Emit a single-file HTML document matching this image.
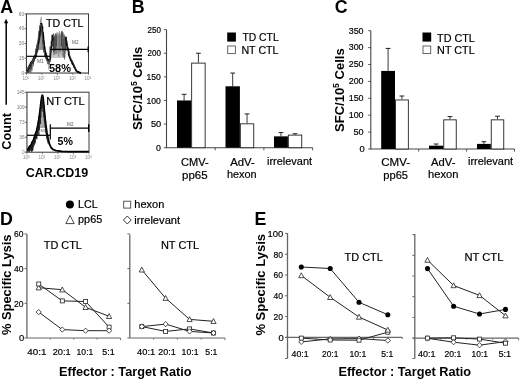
<!DOCTYPE html>
<html><head><meta charset="utf-8"><title>Figure</title><style>
html,body{margin:0;padding:0;background:#fff;width:520px;height:380px;overflow:hidden;}
#fig{will-change:transform;width:520px;height:380px;}
svg{display:block;}
text{font-family:"Liberation Sans", sans-serif;}
</style></head><body><div id="fig">
<svg width="520" height="380" viewBox="0 0 520 380">
<line x1="6.20" y1="22.00" x2="6.20" y2="104.80" stroke="#000" stroke-width="1.5"/>
<path d="M6.1 18.8 L4.0 23.3 L8.2 23.3 Z" fill="#000"/>
<rect x="26.5" y="13.9" width="62.0" height="59.1" fill="none" stroke="#3a3a3a" stroke-width="1.0"/>
<line x1="25.50" y1="15.10" x2="26.50" y2="15.10" stroke="#555" stroke-width="0.6"/>
<line x1="25.50" y1="17.50" x2="26.50" y2="17.50" stroke="#555" stroke-width="0.6"/>
<line x1="25.50" y1="19.90" x2="26.50" y2="19.90" stroke="#555" stroke-width="0.6"/>
<line x1="25.50" y1="22.30" x2="26.50" y2="22.30" stroke="#555" stroke-width="0.6"/>
<line x1="25.50" y1="24.70" x2="26.50" y2="24.70" stroke="#555" stroke-width="0.6"/>
<line x1="25.50" y1="27.10" x2="26.50" y2="27.10" stroke="#555" stroke-width="0.6"/>
<line x1="25.50" y1="29.50" x2="26.50" y2="29.50" stroke="#555" stroke-width="0.6"/>
<line x1="25.50" y1="31.90" x2="26.50" y2="31.90" stroke="#555" stroke-width="0.6"/>
<line x1="25.50" y1="34.30" x2="26.50" y2="34.30" stroke="#555" stroke-width="0.6"/>
<line x1="25.50" y1="36.70" x2="26.50" y2="36.70" stroke="#555" stroke-width="0.6"/>
<line x1="25.50" y1="39.10" x2="26.50" y2="39.10" stroke="#555" stroke-width="0.6"/>
<line x1="25.50" y1="41.50" x2="26.50" y2="41.50" stroke="#555" stroke-width="0.6"/>
<line x1="25.50" y1="43.90" x2="26.50" y2="43.90" stroke="#555" stroke-width="0.6"/>
<line x1="25.50" y1="46.30" x2="26.50" y2="46.30" stroke="#555" stroke-width="0.6"/>
<line x1="25.50" y1="48.70" x2="26.50" y2="48.70" stroke="#555" stroke-width="0.6"/>
<line x1="25.50" y1="51.10" x2="26.50" y2="51.10" stroke="#555" stroke-width="0.6"/>
<line x1="25.50" y1="53.50" x2="26.50" y2="53.50" stroke="#555" stroke-width="0.6"/>
<line x1="25.50" y1="55.90" x2="26.50" y2="55.90" stroke="#555" stroke-width="0.6"/>
<line x1="25.50" y1="58.30" x2="26.50" y2="58.30" stroke="#555" stroke-width="0.6"/>
<line x1="25.50" y1="60.70" x2="26.50" y2="60.70" stroke="#555" stroke-width="0.6"/>
<line x1="25.50" y1="63.10" x2="26.50" y2="63.10" stroke="#555" stroke-width="0.6"/>
<line x1="25.50" y1="65.50" x2="26.50" y2="65.50" stroke="#555" stroke-width="0.6"/>
<line x1="25.50" y1="67.90" x2="26.50" y2="67.90" stroke="#555" stroke-width="0.6"/>
<line x1="25.50" y1="70.30" x2="26.50" y2="70.30" stroke="#555" stroke-width="0.6"/>
<line x1="25.50" y1="72.70" x2="26.50" y2="72.70" stroke="#555" stroke-width="0.6"/>
<line x1="31.17" y1="73.00" x2="31.17" y2="73.90" stroke="#666" stroke-width="0.5"/>
<line x1="33.90" y1="73.00" x2="33.90" y2="73.90" stroke="#666" stroke-width="0.5"/>
<line x1="35.83" y1="73.00" x2="35.83" y2="73.90" stroke="#666" stroke-width="0.5"/>
<line x1="37.33" y1="73.00" x2="37.33" y2="73.90" stroke="#666" stroke-width="0.5"/>
<line x1="38.56" y1="73.00" x2="38.56" y2="73.90" stroke="#666" stroke-width="0.5"/>
<line x1="39.60" y1="73.00" x2="39.60" y2="73.90" stroke="#666" stroke-width="0.5"/>
<line x1="40.50" y1="73.00" x2="40.50" y2="73.90" stroke="#666" stroke-width="0.5"/>
<line x1="41.29" y1="73.00" x2="41.29" y2="73.90" stroke="#666" stroke-width="0.5"/>
<line x1="46.67" y1="73.00" x2="46.67" y2="73.90" stroke="#666" stroke-width="0.5"/>
<line x1="49.40" y1="73.00" x2="49.40" y2="73.90" stroke="#666" stroke-width="0.5"/>
<line x1="51.33" y1="73.00" x2="51.33" y2="73.90" stroke="#666" stroke-width="0.5"/>
<line x1="52.83" y1="73.00" x2="52.83" y2="73.90" stroke="#666" stroke-width="0.5"/>
<line x1="54.06" y1="73.00" x2="54.06" y2="73.90" stroke="#666" stroke-width="0.5"/>
<line x1="55.10" y1="73.00" x2="55.10" y2="73.90" stroke="#666" stroke-width="0.5"/>
<line x1="56.00" y1="73.00" x2="56.00" y2="73.90" stroke="#666" stroke-width="0.5"/>
<line x1="56.79" y1="73.00" x2="56.79" y2="73.90" stroke="#666" stroke-width="0.5"/>
<line x1="62.17" y1="73.00" x2="62.17" y2="73.90" stroke="#666" stroke-width="0.5"/>
<line x1="64.90" y1="73.00" x2="64.90" y2="73.90" stroke="#666" stroke-width="0.5"/>
<line x1="66.83" y1="73.00" x2="66.83" y2="73.90" stroke="#666" stroke-width="0.5"/>
<line x1="68.33" y1="73.00" x2="68.33" y2="73.90" stroke="#666" stroke-width="0.5"/>
<line x1="69.56" y1="73.00" x2="69.56" y2="73.90" stroke="#666" stroke-width="0.5"/>
<line x1="70.60" y1="73.00" x2="70.60" y2="73.90" stroke="#666" stroke-width="0.5"/>
<line x1="71.50" y1="73.00" x2="71.50" y2="73.90" stroke="#666" stroke-width="0.5"/>
<line x1="72.29" y1="73.00" x2="72.29" y2="73.90" stroke="#666" stroke-width="0.5"/>
<line x1="77.67" y1="73.00" x2="77.67" y2="73.90" stroke="#666" stroke-width="0.5"/>
<line x1="80.40" y1="73.00" x2="80.40" y2="73.90" stroke="#666" stroke-width="0.5"/>
<line x1="82.33" y1="73.00" x2="82.33" y2="73.90" stroke="#666" stroke-width="0.5"/>
<line x1="83.83" y1="73.00" x2="83.83" y2="73.90" stroke="#666" stroke-width="0.5"/>
<line x1="85.06" y1="73.00" x2="85.06" y2="73.90" stroke="#666" stroke-width="0.5"/>
<line x1="86.10" y1="73.00" x2="86.10" y2="73.90" stroke="#666" stroke-width="0.5"/>
<line x1="87.00" y1="73.00" x2="87.00" y2="73.90" stroke="#666" stroke-width="0.5"/>
<line x1="87.79" y1="73.00" x2="87.79" y2="73.90" stroke="#666" stroke-width="0.5"/>
<line x1="24.50" y1="73.00" x2="26.50" y2="73.00" stroke="#444" stroke-width="0.8"/>
<text x="24.20" y="74.70" font-size="4.8" text-anchor="end" fill="#777">0</text>
<line x1="24.50" y1="58.23" x2="26.50" y2="58.23" stroke="#444" stroke-width="0.8"/>
<text x="24.20" y="59.93" font-size="4.8" text-anchor="end" fill="#777">15</text>
<line x1="24.50" y1="43.45" x2="26.50" y2="43.45" stroke="#444" stroke-width="0.8"/>
<text x="24.20" y="45.15" font-size="4.8" text-anchor="end" fill="#777">30</text>
<line x1="24.50" y1="28.67" x2="26.50" y2="28.67" stroke="#444" stroke-width="0.8"/>
<text x="24.20" y="30.37" font-size="4.8" text-anchor="end" fill="#777">45</text>
<line x1="24.50" y1="13.90" x2="26.50" y2="13.90" stroke="#444" stroke-width="0.8"/>
<text x="24.20" y="15.60" font-size="4.8" text-anchor="end" fill="#777">60</text>
<line x1="26.50" y1="73.00" x2="26.50" y2="75.00" stroke="#555" stroke-width="0.7"/>
<text x="25.90" y="80.20" font-size="4.6" text-anchor="middle" fill="#888">10<tspan font-size="3.2" dy="-1.6">0</tspan></text>
<line x1="42.00" y1="73.00" x2="42.00" y2="75.00" stroke="#555" stroke-width="0.7"/>
<text x="41.40" y="80.20" font-size="4.6" text-anchor="middle" fill="#888">10<tspan font-size="3.2" dy="-1.6">1</tspan></text>
<line x1="57.50" y1="73.00" x2="57.50" y2="75.00" stroke="#555" stroke-width="0.7"/>
<text x="56.90" y="80.20" font-size="4.6" text-anchor="middle" fill="#888">10<tspan font-size="3.2" dy="-1.6">2</tspan></text>
<line x1="73.00" y1="73.00" x2="73.00" y2="75.00" stroke="#555" stroke-width="0.7"/>
<text x="72.40" y="80.20" font-size="4.6" text-anchor="middle" fill="#888">10<tspan font-size="3.2" dy="-1.6">3</tspan></text>
<line x1="88.50" y1="73.00" x2="88.50" y2="75.00" stroke="#555" stroke-width="0.7"/>
<text x="87.90" y="80.20" font-size="4.6" text-anchor="middle" fill="#888">10<tspan font-size="3.2" dy="-1.6">4</tspan></text>
<rect x="27" y="92.2" width="62" height="59.999999999999986" fill="none" stroke="#3a3a3a" stroke-width="1.0"/>
<line x1="26.00" y1="93.40" x2="27.00" y2="93.40" stroke="#555" stroke-width="0.6"/>
<line x1="26.00" y1="95.80" x2="27.00" y2="95.80" stroke="#555" stroke-width="0.6"/>
<line x1="26.00" y1="98.20" x2="27.00" y2="98.20" stroke="#555" stroke-width="0.6"/>
<line x1="26.00" y1="100.60" x2="27.00" y2="100.60" stroke="#555" stroke-width="0.6"/>
<line x1="26.00" y1="103.00" x2="27.00" y2="103.00" stroke="#555" stroke-width="0.6"/>
<line x1="26.00" y1="105.40" x2="27.00" y2="105.40" stroke="#555" stroke-width="0.6"/>
<line x1="26.00" y1="107.80" x2="27.00" y2="107.80" stroke="#555" stroke-width="0.6"/>
<line x1="26.00" y1="110.20" x2="27.00" y2="110.20" stroke="#555" stroke-width="0.6"/>
<line x1="26.00" y1="112.60" x2="27.00" y2="112.60" stroke="#555" stroke-width="0.6"/>
<line x1="26.00" y1="115.00" x2="27.00" y2="115.00" stroke="#555" stroke-width="0.6"/>
<line x1="26.00" y1="117.40" x2="27.00" y2="117.40" stroke="#555" stroke-width="0.6"/>
<line x1="26.00" y1="119.80" x2="27.00" y2="119.80" stroke="#555" stroke-width="0.6"/>
<line x1="26.00" y1="122.20" x2="27.00" y2="122.20" stroke="#555" stroke-width="0.6"/>
<line x1="26.00" y1="124.60" x2="27.00" y2="124.60" stroke="#555" stroke-width="0.6"/>
<line x1="26.00" y1="127.00" x2="27.00" y2="127.00" stroke="#555" stroke-width="0.6"/>
<line x1="26.00" y1="129.40" x2="27.00" y2="129.40" stroke="#555" stroke-width="0.6"/>
<line x1="26.00" y1="131.80" x2="27.00" y2="131.80" stroke="#555" stroke-width="0.6"/>
<line x1="26.00" y1="134.20" x2="27.00" y2="134.20" stroke="#555" stroke-width="0.6"/>
<line x1="26.00" y1="136.60" x2="27.00" y2="136.60" stroke="#555" stroke-width="0.6"/>
<line x1="26.00" y1="139.00" x2="27.00" y2="139.00" stroke="#555" stroke-width="0.6"/>
<line x1="26.00" y1="141.40" x2="27.00" y2="141.40" stroke="#555" stroke-width="0.6"/>
<line x1="26.00" y1="143.80" x2="27.00" y2="143.80" stroke="#555" stroke-width="0.6"/>
<line x1="26.00" y1="146.20" x2="27.00" y2="146.20" stroke="#555" stroke-width="0.6"/>
<line x1="26.00" y1="148.60" x2="27.00" y2="148.60" stroke="#555" stroke-width="0.6"/>
<line x1="26.00" y1="151.00" x2="27.00" y2="151.00" stroke="#555" stroke-width="0.6"/>
<line x1="31.67" y1="152.20" x2="31.67" y2="153.10" stroke="#666" stroke-width="0.5"/>
<line x1="34.40" y1="152.20" x2="34.40" y2="153.10" stroke="#666" stroke-width="0.5"/>
<line x1="36.33" y1="152.20" x2="36.33" y2="153.10" stroke="#666" stroke-width="0.5"/>
<line x1="37.83" y1="152.20" x2="37.83" y2="153.10" stroke="#666" stroke-width="0.5"/>
<line x1="39.06" y1="152.20" x2="39.06" y2="153.10" stroke="#666" stroke-width="0.5"/>
<line x1="40.10" y1="152.20" x2="40.10" y2="153.10" stroke="#666" stroke-width="0.5"/>
<line x1="41.00" y1="152.20" x2="41.00" y2="153.10" stroke="#666" stroke-width="0.5"/>
<line x1="41.79" y1="152.20" x2="41.79" y2="153.10" stroke="#666" stroke-width="0.5"/>
<line x1="47.17" y1="152.20" x2="47.17" y2="153.10" stroke="#666" stroke-width="0.5"/>
<line x1="49.90" y1="152.20" x2="49.90" y2="153.10" stroke="#666" stroke-width="0.5"/>
<line x1="51.83" y1="152.20" x2="51.83" y2="153.10" stroke="#666" stroke-width="0.5"/>
<line x1="53.33" y1="152.20" x2="53.33" y2="153.10" stroke="#666" stroke-width="0.5"/>
<line x1="54.56" y1="152.20" x2="54.56" y2="153.10" stroke="#666" stroke-width="0.5"/>
<line x1="55.60" y1="152.20" x2="55.60" y2="153.10" stroke="#666" stroke-width="0.5"/>
<line x1="56.50" y1="152.20" x2="56.50" y2="153.10" stroke="#666" stroke-width="0.5"/>
<line x1="57.29" y1="152.20" x2="57.29" y2="153.10" stroke="#666" stroke-width="0.5"/>
<line x1="62.67" y1="152.20" x2="62.67" y2="153.10" stroke="#666" stroke-width="0.5"/>
<line x1="65.40" y1="152.20" x2="65.40" y2="153.10" stroke="#666" stroke-width="0.5"/>
<line x1="67.33" y1="152.20" x2="67.33" y2="153.10" stroke="#666" stroke-width="0.5"/>
<line x1="68.83" y1="152.20" x2="68.83" y2="153.10" stroke="#666" stroke-width="0.5"/>
<line x1="70.06" y1="152.20" x2="70.06" y2="153.10" stroke="#666" stroke-width="0.5"/>
<line x1="71.10" y1="152.20" x2="71.10" y2="153.10" stroke="#666" stroke-width="0.5"/>
<line x1="72.00" y1="152.20" x2="72.00" y2="153.10" stroke="#666" stroke-width="0.5"/>
<line x1="72.79" y1="152.20" x2="72.79" y2="153.10" stroke="#666" stroke-width="0.5"/>
<line x1="78.17" y1="152.20" x2="78.17" y2="153.10" stroke="#666" stroke-width="0.5"/>
<line x1="80.90" y1="152.20" x2="80.90" y2="153.10" stroke="#666" stroke-width="0.5"/>
<line x1="82.83" y1="152.20" x2="82.83" y2="153.10" stroke="#666" stroke-width="0.5"/>
<line x1="84.33" y1="152.20" x2="84.33" y2="153.10" stroke="#666" stroke-width="0.5"/>
<line x1="85.56" y1="152.20" x2="85.56" y2="153.10" stroke="#666" stroke-width="0.5"/>
<line x1="86.60" y1="152.20" x2="86.60" y2="153.10" stroke="#666" stroke-width="0.5"/>
<line x1="87.50" y1="152.20" x2="87.50" y2="153.10" stroke="#666" stroke-width="0.5"/>
<line x1="88.29" y1="152.20" x2="88.29" y2="153.10" stroke="#666" stroke-width="0.5"/>
<line x1="25.00" y1="152.20" x2="27.00" y2="152.20" stroke="#444" stroke-width="0.8"/>
<text x="24.70" y="153.90" font-size="4.8" text-anchor="end" fill="#777">0</text>
<line x1="25.00" y1="137.20" x2="27.00" y2="137.20" stroke="#444" stroke-width="0.8"/>
<text x="24.70" y="138.90" font-size="4.8" text-anchor="end" fill="#777">36</text>
<line x1="25.00" y1="122.20" x2="27.00" y2="122.20" stroke="#444" stroke-width="0.8"/>
<text x="24.70" y="123.90" font-size="4.8" text-anchor="end" fill="#777">73</text>
<line x1="25.00" y1="107.20" x2="27.00" y2="107.20" stroke="#444" stroke-width="0.8"/>
<text x="24.70" y="108.90" font-size="4.8" text-anchor="end" fill="#777">109</text>
<line x1="25.00" y1="92.20" x2="27.00" y2="92.20" stroke="#444" stroke-width="0.8"/>
<text x="24.70" y="93.90" font-size="4.8" text-anchor="end" fill="#777">145</text>
<line x1="27.00" y1="152.20" x2="27.00" y2="154.20" stroke="#555" stroke-width="0.7"/>
<text x="26.40" y="159.40" font-size="4.6" text-anchor="middle" fill="#888">10<tspan font-size="3.2" dy="-1.6">0</tspan></text>
<line x1="42.50" y1="152.20" x2="42.50" y2="154.20" stroke="#555" stroke-width="0.7"/>
<text x="41.90" y="159.40" font-size="4.6" text-anchor="middle" fill="#888">10<tspan font-size="3.2" dy="-1.6">1</tspan></text>
<line x1="58.00" y1="152.20" x2="58.00" y2="154.20" stroke="#555" stroke-width="0.7"/>
<text x="57.40" y="159.40" font-size="4.6" text-anchor="middle" fill="#888">10<tspan font-size="3.2" dy="-1.6">2</tspan></text>
<line x1="73.50" y1="152.20" x2="73.50" y2="154.20" stroke="#555" stroke-width="0.7"/>
<text x="72.90" y="159.40" font-size="4.6" text-anchor="middle" fill="#888">10<tspan font-size="3.2" dy="-1.6">3</tspan></text>
<line x1="89.00" y1="152.20" x2="89.00" y2="154.20" stroke="#555" stroke-width="0.7"/>
<text x="88.40" y="159.40" font-size="4.6" text-anchor="middle" fill="#888">10<tspan font-size="3.2" dy="-1.6">4</tspan></text>
<path d="M51.2 58 L52.2 39 L54.5 34 L57.5 31.5 L60.5 33.5 L63 32.5 L65.5 35.5 L66.8 46 L66 58 Z" fill="#9a9a9a" opacity="0.55"/>
<path d="M37.6 50 L39.4 32 L41 22 L42.6 31 L44.2 50 Z" fill="#555" opacity="0.6"/>
<line x1="51.80" y1="34.62" x2="51.89" y2="47.41" stroke="#444" stroke-width="0.6"/>
<line x1="52.35" y1="37.11" x2="52.40" y2="46.51" stroke="#777" stroke-width="0.6"/>
<line x1="52.90" y1="34.07" x2="52.85" y2="46.38" stroke="#222" stroke-width="0.6"/>
<line x1="53.45" y1="33.45" x2="53.65" y2="51.79" stroke="#000" stroke-width="0.6"/>
<line x1="54.00" y1="37.74" x2="54.05" y2="55.09" stroke="#000" stroke-width="0.6"/>
<line x1="54.55" y1="35.89" x2="54.84" y2="51.35" stroke="#000" stroke-width="0.6"/>
<line x1="55.10" y1="35.78" x2="55.05" y2="47.13" stroke="#777" stroke-width="0.6"/>
<line x1="55.65" y1="33.59" x2="55.84" y2="49.94" stroke="#222" stroke-width="0.6"/>
<line x1="56.20" y1="33.52" x2="56.01" y2="54.14" stroke="#000" stroke-width="0.6"/>
<line x1="56.75" y1="35.74" x2="56.49" y2="46.00" stroke="#222" stroke-width="0.6"/>
<line x1="57.30" y1="32.98" x2="57.47" y2="53.51" stroke="#999" stroke-width="0.6"/>
<line x1="57.85" y1="33.43" x2="57.73" y2="52.25" stroke="#666" stroke-width="0.6"/>
<line x1="58.40" y1="33.99" x2="58.44" y2="48.91" stroke="#999" stroke-width="0.6"/>
<line x1="58.95" y1="34.88" x2="58.82" y2="56.67" stroke="#444" stroke-width="0.6"/>
<line x1="59.50" y1="31.09" x2="59.65" y2="51.69" stroke="#666" stroke-width="0.6"/>
<line x1="60.05" y1="35.17" x2="60.33" y2="51.75" stroke="#444" stroke-width="0.6"/>
<line x1="60.60" y1="34.32" x2="60.83" y2="54.17" stroke="#888" stroke-width="0.6"/>
<line x1="61.15" y1="32.20" x2="61.15" y2="50.60" stroke="#555" stroke-width="0.6"/>
<line x1="61.70" y1="30.84" x2="61.56" y2="46.50" stroke="#000" stroke-width="0.6"/>
<line x1="62.25" y1="30.80" x2="62.34" y2="56.22" stroke="#555" stroke-width="0.6"/>
<line x1="62.80" y1="31.92" x2="62.90" y2="51.17" stroke="#000" stroke-width="0.6"/>
<line x1="63.35" y1="38.70" x2="63.42" y2="50.69" stroke="#555" stroke-width="0.6"/>
<line x1="63.90" y1="34.29" x2="63.68" y2="57.29" stroke="#222" stroke-width="0.6"/>
<line x1="64.45" y1="35.99" x2="64.45" y2="59.67" stroke="#222" stroke-width="0.6"/>
<line x1="65.00" y1="36.25" x2="65.23" y2="53.79" stroke="#555" stroke-width="0.6"/>
<line x1="65.55" y1="38.32" x2="65.50" y2="49.45" stroke="#333" stroke-width="0.6"/>
<line x1="66.10" y1="37.41" x2="65.94" y2="51.09" stroke="#000" stroke-width="0.6"/>
<line x1="27.30" y1="71.81" x2="27.14" y2="72.50" stroke="#555" stroke-width="0.6"/>
<line x1="27.75" y1="68.99" x2="27.62" y2="72.50" stroke="#222" stroke-width="0.6"/>
<line x1="28.20" y1="69.39" x2="28.24" y2="72.50" stroke="#222" stroke-width="0.6"/>
<line x1="28.65" y1="67.79" x2="28.72" y2="72.50" stroke="#000" stroke-width="0.6"/>
<line x1="29.10" y1="67.71" x2="29.37" y2="72.50" stroke="#555" stroke-width="0.6"/>
<line x1="29.55" y1="67.09" x2="29.54" y2="72.50" stroke="#555" stroke-width="0.6"/>
<line x1="30.00" y1="67.31" x2="29.83" y2="69.47" stroke="#222" stroke-width="0.6"/>
<line x1="30.45" y1="66.16" x2="30.21" y2="72.19" stroke="#222" stroke-width="0.6"/>
<line x1="30.90" y1="63.87" x2="30.97" y2="72.50" stroke="#000" stroke-width="0.6"/>
<line x1="31.35" y1="61.84" x2="31.14" y2="70.26" stroke="#333" stroke-width="0.6"/>
<line x1="31.80" y1="60.58" x2="31.78" y2="69.17" stroke="#000" stroke-width="0.6"/>
<line x1="32.25" y1="59.90" x2="32.23" y2="70.90" stroke="#555" stroke-width="0.6"/>
<line x1="32.70" y1="60.52" x2="32.85" y2="63.97" stroke="#333" stroke-width="0.6"/>
<line x1="33.15" y1="59.03" x2="33.16" y2="66.81" stroke="#222" stroke-width="0.6"/>
<line x1="33.60" y1="56.63" x2="33.39" y2="64.68" stroke="#000" stroke-width="0.6"/>
<line x1="34.05" y1="56.22" x2="34.14" y2="62.08" stroke="#000" stroke-width="0.6"/>
<line x1="34.50" y1="55.41" x2="34.42" y2="60.83" stroke="#222" stroke-width="0.6"/>
<line x1="34.95" y1="54.33" x2="34.97" y2="58.46" stroke="#333" stroke-width="0.6"/>
<line x1="35.40" y1="51.39" x2="35.57" y2="59.09" stroke="#222" stroke-width="0.6"/>
<line x1="35.85" y1="48.78" x2="35.99" y2="58.43" stroke="#222" stroke-width="0.6"/>
<line x1="36.30" y1="48.48" x2="36.44" y2="54.02" stroke="#000" stroke-width="0.6"/>
<line x1="36.75" y1="44.57" x2="36.57" y2="51.74" stroke="#333" stroke-width="0.6"/>
<line x1="37.20" y1="43.46" x2="37.49" y2="52.86" stroke="#333" stroke-width="0.6"/>
<line x1="37.65" y1="42.32" x2="37.63" y2="44.78" stroke="#333" stroke-width="0.6"/>
<line x1="38.10" y1="38.93" x2="38.34" y2="45.41" stroke="#000" stroke-width="0.6"/>
<line x1="38.55" y1="35.08" x2="38.73" y2="42.59" stroke="#000" stroke-width="0.6"/>
<line x1="39.00" y1="31.00" x2="38.93" y2="35.84" stroke="#222" stroke-width="0.6"/>
<line x1="39.45" y1="30.04" x2="39.62" y2="34.22" stroke="#333" stroke-width="0.6"/>
<line x1="39.90" y1="29.19" x2="40.03" y2="37.57" stroke="#555" stroke-width="0.6"/>
<line x1="40.35" y1="26.92" x2="40.48" y2="36.25" stroke="#222" stroke-width="0.6"/>
<line x1="40.80" y1="24.02" x2="40.85" y2="28.69" stroke="#555" stroke-width="0.6"/>
<line x1="41.25" y1="24.58" x2="41.45" y2="29.52" stroke="#555" stroke-width="0.6"/>
<line x1="41.70" y1="25.93" x2="41.73" y2="31.85" stroke="#222" stroke-width="0.6"/>
<line x1="42.15" y1="29.69" x2="42.29" y2="36.85" stroke="#000" stroke-width="0.6"/>
<line x1="42.60" y1="31.92" x2="42.56" y2="41.54" stroke="#222" stroke-width="0.6"/>
<line x1="43.05" y1="34.52" x2="42.90" y2="39.98" stroke="#333" stroke-width="0.6"/>
<line x1="43.50" y1="39.00" x2="43.40" y2="47.35" stroke="#555" stroke-width="0.6"/>
<line x1="43.95" y1="40.10" x2="44.09" y2="44.53" stroke="#555" stroke-width="0.6"/>
<line x1="44.40" y1="42.71" x2="44.41" y2="51.91" stroke="#222" stroke-width="0.6"/>
<line x1="44.85" y1="45.34" x2="44.56" y2="52.10" stroke="#555" stroke-width="0.6"/>
<line x1="45.30" y1="47.11" x2="45.47" y2="55.20" stroke="#222" stroke-width="0.6"/>
<line x1="45.75" y1="51.42" x2="45.89" y2="56.76" stroke="#000" stroke-width="0.6"/>
<line x1="46.20" y1="53.47" x2="46.23" y2="59.57" stroke="#000" stroke-width="0.6"/>
<line x1="46.65" y1="53.30" x2="46.46" y2="57.85" stroke="#000" stroke-width="0.6"/>
<line x1="47.10" y1="54.85" x2="47.14" y2="62.22" stroke="#000" stroke-width="0.6"/>
<line x1="47.55" y1="57.06" x2="47.55" y2="64.17" stroke="#222" stroke-width="0.6"/>
<line x1="48.00" y1="57.53" x2="48.02" y2="64.27" stroke="#555" stroke-width="0.6"/>
<line x1="48.45" y1="59.30" x2="48.46" y2="64.06" stroke="#333" stroke-width="0.6"/>
<line x1="48.90" y1="59.00" x2="48.72" y2="69.52" stroke="#555" stroke-width="0.6"/>
<line x1="49.35" y1="61.97" x2="49.32" y2="64.74" stroke="#000" stroke-width="0.6"/>
<line x1="41.20" y1="16.80" x2="41.20" y2="36.00" stroke="#888" stroke-width="1.0"/>
<line x1="40.40" y1="19.50" x2="40.40" y2="34.00" stroke="#777" stroke-width="0.7"/>
<polyline points="26.89,71.36 27.00,70.31 27.29,70.45 28.04,69.39 28.09,67.81 28.32,67.44 29.00,65.94 29.44,65.33 29.71,64.70 30.10,65.49 30.34,63.76 30.70,62.51 31.10,62.41 31.53,62.56 31.88,61.60 32.22,61.90 32.52,61.22 32.96,60.55 33.29,58.54 34.10,57.56 34.43,58.04 34.87,56.95 35.32,55.61 35.52,55.03 35.80,53.41 35.99,53.12 36.24,52.07 36.58,49.07 36.79,48.32 37.32,46.78 37.42,45.11 37.56,45.39 38.03,43.76 38.39,40.55 38.70,40.88 39.05,37.72 38.88,37.26 39.32,34.66 39.33,32.69 39.79,30.54 40.15,29.99 40.07,26.04 40.60,25.96 41.01,23.74 41.37,23.82 41.88,25.06 42.22,26.78 42.64,27.42 42.46,29.06 42.65,32.16 43.09,32.58 43.40,36.16 43.51,36.13 43.58,39.76 43.67,40.01 44.01,42.64 44.15,45.79 44.42,47.21 44.37,48.17 44.76,49.36 45.08,51.56 45.67,53.10 45.47,55.76 45.96,55.37 46.42,56.17 46.79,58.31 47.17,59.55 47.50,60.01 47.92,59.92 48.45,59.72 48.96,59.67 49.58,61.36 49.63,61.59 50.18,59.39 50.40,58.04 50.50,55.57 50.73,53.04 51.01,51.93 51.03,49.11 51.30,47.01 51.60,45.76 51.63,44.13 51.56,42.12 52.15,40.42 52.49,38.79 52.33,36.08 52.80,35.50" fill="none" stroke="#000" stroke-width="1.5" stroke-linejoin="round" />
<polyline points="27.77,72.72 27.98,70.90 28.16,69.24 28.74,68.89 28.94,68.51 29.19,68.67 29.97,66.23 30.16,66.79 30.51,66.17 31.07,64.27 31.42,63.67 31.75,63.55 32.24,62.19 32.66,62.02 32.61,62.13 33.07,61.47 33.53,60.99 34.10,60.34 34.22,59.26 34.79,59.45 35.00,57.14 35.59,57.32 35.89,56.03 36.53,56.29 36.72,53.68 36.79,52.77 37.19,50.73 37.60,51.33 38.15,48.87 38.37,48.49 38.22,45.35 38.82,44.22 38.90,43.44 39.30,41.33 39.31,40.03 39.72,39.25 39.89,36.02 40.38,35.26 40.33,33.55 40.56,31.05 40.71,28.96 41.11,26.98 41.45,26.18 41.75,23.57 42.30,23.80" fill="none" stroke="#111" stroke-width="0.9" stroke-linejoin="round" />
<polyline points="40.62,23.31 40.68,24.83 41.48,25.45 41.71,28.61 41.88,29.46 41.68,32.02 42.15,32.90 42.50,35.37 42.35,37.95 42.76,39.16 42.56,41.72 42.98,43.93 43.28,44.56 43.27,47.99 43.66,49.33 43.79,51.39 44.24,53.02 44.55,53.09 44.76,54.86 45.08,56.78 45.68,57.11 45.87,58.27 46.48,58.54 46.87,58.83 47.20,60.67 47.63,60.33 48.00,60.80" fill="none" stroke="#111" stroke-width="0.9" stroke-linejoin="round" />
<polyline points="26.12,73.22 26.50,72.00 26.75,70.45 27.25,69.94 27.49,70.12 27.75,67.74 28.46,67.72 28.77,66.62 28.91,66.95 29.40,65.85 29.72,65.49 30.19,65.11 30.74,63.12 31.15,63.12 31.41,62.63 31.63,62.80 32.35,60.84 32.46,61.53 33.05,61.14 33.29,58.55 33.92,59.46 34.11,57.74 34.47,57.57 34.76,55.50 35.44,54.18 35.66,54.12 35.97,53.27 35.89,51.79 36.15,49.25 36.70,47.61 37.04,47.99 37.26,45.66 37.44,44.66 37.53,42.27 38.22,40.58 38.10,39.98 38.19,37.67 38.91,35.36 38.79,34.68 38.97,32.25 39.42,29.26 39.66,28.50 39.78,25.59 40.59,25.74 40.59,24.16 41.16,25.69 41.60,27.59 41.91,28.72 41.95,29.81 42.10,33.29 42.16,34.49 42.41,36.93 42.59,38.23 42.80,40.98 42.90,42.35 43.38,44.87 43.54,46.87 43.55,48.21 44.21,49.11 44.04,51.74 44.51,53.52 44.67,54.55 45.21,55.83 45.31,56.36 45.73,57.58 46.38,59.25 46.68,59.82 47.21,61.25 47.74,60.83 47.70,60.48 48.09,61.54 48.94,61.97 49.33,61.76 49.57,60.02 49.82,57.98 50.00,56.59 50.10,54.84 50.16,53.17 50.41,50.71 50.47,48.45 50.75,46.20 50.98,45.31 50.98,42.34 51.18,41.41 51.60,39.37 52.16,37.29 52.20,36.70" fill="none" stroke="#666" stroke-width="0.7" stroke-linejoin="round" />
<polyline points="65.62,37.27 65.96,38.09 66.11,39.88 66.40,41.75 66.28,42.96 66.55,44.18 66.98,45.64 67.39,47.20 67.66,47.49 67.83,48.98 68.38,51.06 68.60,52.51 68.70,54.84 69.15,56.06 69.55,57.02 69.82,57.40 70.20,58.96 70.62,59.69 70.83,60.40 71.20,60.70 71.86,61.69 72.16,63.58 72.84,63.24 72.82,64.45 73.60,64.93 73.82,66.48 74.33,67.29 74.50,67.39 74.88,68.16 75.28,69.02 75.64,69.33 76.09,70.87 76.44,70.29 76.88,71.14 77.51,72.03 77.80,72.10 78.27,71.78 79.19,72.42 79.47,72.67 80.19,72.53 80.28,73.09 81.00,73.00" fill="none" stroke="#000" stroke-width="1.6" stroke-linejoin="round" />
<polyline points="66.36,36.59 66.24,38.60 66.54,40.16 67.09,41.65 66.95,42.97 67.55,43.77 67.47,45.13 67.72,47.82 67.97,48.66 68.74,50.50 69.03,51.35 69.14,53.44 69.32,53.60 69.86,55.83 70.15,57.79 70.66,57.38 70.97,59.26 71.27,59.37 71.94,61.04 72.06,60.60 72.62,63.07 72.86,62.14 73.43,64.50 73.77,64.48 74.05,66.38 74.47,65.61 74.71,66.28 75.34,67.63 75.70,68.70" fill="none" stroke="#222" stroke-width="0.9" stroke-linejoin="round" />
<line x1="26.50" y1="56.30" x2="50.00" y2="56.30" stroke="#000" stroke-width="1.2"/>
<line x1="50.00" y1="49.30" x2="88.50" y2="49.30" stroke="#000" stroke-width="1.3"/>
<line x1="50.00" y1="46.50" x2="50.00" y2="58.50" stroke="#222" stroke-width="0.9"/>
<line x1="88.20" y1="46.50" x2="88.20" y2="52.20" stroke="#000" stroke-width="1.3"/>
<text x="75.30" y="43.80" font-size="4.6" text-anchor="middle" fill="#555">M2</text>
<text x="40.40" y="62.60" font-size="4.6" text-anchor="middle" fill="#555">M1</text>
<path d="M38.8 128 L40.6 106 L42.3 96 L44 106 L45.8 128 Z" fill="#666" opacity="0.55"/>
<polyline points="27.60,147.97 27.90,151.50 28.10,150.12 28.40,151.50 28.60,146.36 28.90,151.50 29.10,146.56 29.40,151.50 29.60,145.15 29.90,151.13 30.10,145.96 30.40,150.32 30.60,145.91 30.90,149.00 31.10,144.27 31.40,151.50 31.60,141.63 31.90,151.50 32.10,142.59 32.40,150.82 32.60,142.63 32.90,150.28 33.10,140.49 33.40,147.40 33.60,137.95 33.90,143.02 34.10,136.40 34.40,145.38 34.60,134.44 34.90,143.84 35.10,133.24 35.40,142.39 35.60,132.54 35.90,138.18 36.10,131.44 36.40,138.73 36.60,131.40 36.90,139.20 37.10,128.77 37.40,133.56 37.60,126.64 37.90,135.06 38.10,122.02 38.40,130.99 38.60,118.66 38.90,135.02 39.10,116.27 39.40,129.97 39.60,113.67 39.90,123.09 40.10,109.20 40.40,124.14 40.60,103.78 40.90,117.64 41.10,101.21 41.40,109.03 41.60,97.35 41.90,106.76 42.10,95.04 42.40,102.77 42.60,96.96 42.90,111.82 43.10,97.37 43.40,107.92 43.60,101.83 43.90,117.01 44.10,106.07 44.40,121.92 44.60,112.60 44.90,118.74 45.10,117.74 45.40,127.02 45.60,120.94 45.90,133.30 46.10,125.52 46.40,130.39 46.60,130.88 46.90,138.93 47.10,133.25 47.40,140.82 47.60,136.68 47.90,143.51" fill="none" stroke="#111" stroke-width="0.6" stroke-linejoin="round" />
<polyline points="27.30,150.50 29.00,148.00 31.00,145.00 33.00,141.00 35.00,136.00 36.50,131.00 38.00,124.50 39.20,117.00 40.20,109.00 41.00,102.00 41.70,97.00 42.30,95.20 43.00,97.00 43.60,103.00 44.40,111.00 45.20,119.00 46.00,126.50 47.00,133.00 48.20,139.00 49.50,144.00 51.00,147.50 53.00,149.50 56.00,150.60 62.00,151.30 70.00,151.60 88.80,151.60" fill="none" stroke="#000" stroke-width="1.8" stroke-linejoin="round" />
<polyline points="28.10,150.90 29.80,148.40 31.80,145.40 33.80,141.40 35.80,136.40 37.30,131.40 38.80,124.90 40.00,117.40 41.00,109.40 41.80,102.40 42.50,97.40 43.10,95.60" fill="none" stroke="#222" stroke-width="0.9" stroke-linejoin="round" />
<polyline points="41.50,95.60 42.20,97.40 42.80,103.40 43.60,111.40 44.40,119.40 45.20,126.90 46.20,133.40 47.40,139.40 48.70,144.40" fill="none" stroke="#222" stroke-width="0.9" stroke-linejoin="round" />
<line x1="27.00" y1="135.30" x2="50.30" y2="135.30" stroke="#000" stroke-width="1.2"/>
<line x1="50.30" y1="128.20" x2="89.00" y2="128.20" stroke="#000" stroke-width="1.3"/>
<line x1="50.30" y1="124.20" x2="50.30" y2="139.50" stroke="#000" stroke-width="1.2"/>
<line x1="88.70" y1="124.20" x2="88.70" y2="132.00" stroke="#000" stroke-width="1.4"/>
<text x="43.20" y="132.30" font-size="4.0" text-anchor="middle" fill="#555">M1</text>
<text x="70.30" y="126.20" font-size="4.6" text-anchor="middle" fill="#555">M2</text>
<line x1="166.50" y1="29.60" x2="166.50" y2="147.70" stroke="#444" stroke-width="1.1"/>
<line x1="163.90" y1="147.70" x2="166.50" y2="147.70" stroke="#444" stroke-width="0.9"/>
<line x1="163.90" y1="124.08" x2="166.50" y2="124.08" stroke="#444" stroke-width="0.9"/>
<line x1="163.90" y1="100.46" x2="166.50" y2="100.46" stroke="#444" stroke-width="0.9"/>
<line x1="163.90" y1="76.84" x2="166.50" y2="76.84" stroke="#444" stroke-width="0.9"/>
<line x1="163.90" y1="53.22" x2="166.50" y2="53.22" stroke="#444" stroke-width="0.9"/>
<line x1="163.90" y1="29.60" x2="166.50" y2="29.60" stroke="#444" stroke-width="0.9"/>
<line x1="166.00" y1="147.70" x2="312.60" y2="147.70" stroke="#444" stroke-width="1.1"/>
<line x1="215.20" y1="147.70" x2="215.20" y2="150.30" stroke="#444" stroke-width="0.9"/>
<line x1="263.90" y1="147.70" x2="263.90" y2="150.30" stroke="#444" stroke-width="0.9"/>
<line x1="312.60" y1="147.70" x2="312.60" y2="150.30" stroke="#444" stroke-width="0.9"/>
<line x1="184.10" y1="94.32" x2="184.10" y2="100.46" stroke="#222" stroke-width="0.9"/>
<line x1="181.70" y1="94.32" x2="186.50" y2="94.32" stroke="#222" stroke-width="1.0"/>
<rect x="177.00" y="100.46" width="14.20" height="47.24" fill="#000"/>
<line x1="198.40" y1="53.22" x2="198.40" y2="62.67" stroke="#222" stroke-width="0.9"/>
<line x1="196.00" y1="53.22" x2="200.80" y2="53.22" stroke="#222" stroke-width="1.0"/>
<rect x="191.65" y="63.12" width="13.50" height="84.58" fill="#fff" stroke="#222" stroke-width="0.9"/>
<line x1="232.70" y1="73.06" x2="232.70" y2="86.29" stroke="#222" stroke-width="0.9"/>
<line x1="230.30" y1="73.06" x2="235.10" y2="73.06" stroke="#222" stroke-width="1.0"/>
<rect x="225.50" y="86.29" width="14.40" height="61.41" fill="#000"/>
<line x1="247.05" y1="113.92" x2="247.05" y2="123.37" stroke="#222" stroke-width="0.9"/>
<line x1="244.65" y1="113.92" x2="249.45" y2="113.92" stroke="#222" stroke-width="1.0"/>
<rect x="240.35" y="123.82" width="13.40" height="23.88" fill="#fff" stroke="#222" stroke-width="0.9"/>
<line x1="280.95" y1="132.58" x2="280.95" y2="136.36" stroke="#222" stroke-width="0.9"/>
<line x1="278.55" y1="132.58" x2="283.35" y2="132.58" stroke="#222" stroke-width="1.0"/>
<rect x="274.00" y="136.36" width="13.90" height="11.34" fill="#000"/>
<line x1="295.05" y1="133.72" x2="295.05" y2="134.66" stroke="#222" stroke-width="0.9"/>
<line x1="292.65" y1="133.72" x2="297.45" y2="133.72" stroke="#222" stroke-width="1.0"/>
<rect x="288.35" y="135.11" width="13.40" height="12.59" fill="#fff" stroke="#222" stroke-width="0.9"/>
<rect x="227.20" y="32.50" width="8.70" height="9.10" fill="#000"/>
<rect x="227.7" y="46.0" width="7.7" height="7.6" fill="#fff" stroke="#555" stroke-width="0.9"/>
<line x1="370.80" y1="30.70" x2="370.80" y2="149.00" stroke="#444" stroke-width="1.1"/>
<line x1="368.20" y1="149.00" x2="370.80" y2="149.00" stroke="#444" stroke-width="0.9"/>
<line x1="368.20" y1="132.10" x2="370.80" y2="132.10" stroke="#444" stroke-width="0.9"/>
<line x1="368.20" y1="115.20" x2="370.80" y2="115.20" stroke="#444" stroke-width="0.9"/>
<line x1="368.20" y1="98.30" x2="370.80" y2="98.30" stroke="#444" stroke-width="0.9"/>
<line x1="368.20" y1="81.40" x2="370.80" y2="81.40" stroke="#444" stroke-width="0.9"/>
<line x1="368.20" y1="64.50" x2="370.80" y2="64.50" stroke="#444" stroke-width="0.9"/>
<line x1="368.20" y1="47.60" x2="370.80" y2="47.60" stroke="#444" stroke-width="0.9"/>
<line x1="368.20" y1="30.70" x2="370.80" y2="30.70" stroke="#444" stroke-width="0.9"/>
<line x1="370.30" y1="149.00" x2="514.50" y2="149.00" stroke="#444" stroke-width="1.1"/>
<line x1="418.70" y1="149.00" x2="418.70" y2="151.60" stroke="#444" stroke-width="0.9"/>
<line x1="466.60" y1="149.00" x2="466.60" y2="151.60" stroke="#444" stroke-width="0.9"/>
<line x1="514.50" y1="149.00" x2="514.50" y2="151.60" stroke="#444" stroke-width="0.9"/>
<line x1="388.10" y1="48.41" x2="388.10" y2="70.92" stroke="#222" stroke-width="0.9"/>
<line x1="385.70" y1="48.41" x2="390.50" y2="48.41" stroke="#222" stroke-width="1.0"/>
<rect x="381.20" y="70.92" width="13.80" height="78.08" fill="#000"/>
<line x1="401.90" y1="96.00" x2="401.90" y2="99.52" stroke="#222" stroke-width="0.9"/>
<line x1="399.50" y1="96.00" x2="404.30" y2="96.00" stroke="#222" stroke-width="1.0"/>
<rect x="395.45" y="99.97" width="12.90" height="49.03" fill="#fff" stroke="#222" stroke-width="0.9"/>
<line x1="436.15" y1="144.00" x2="436.15" y2="145.69" stroke="#222" stroke-width="0.9"/>
<line x1="433.75" y1="144.00" x2="438.55" y2="144.00" stroke="#222" stroke-width="1.0"/>
<rect x="429.00" y="145.69" width="14.30" height="3.31" fill="#000"/>
<line x1="450.00" y1="116.59" x2="450.00" y2="119.39" stroke="#222" stroke-width="0.9"/>
<line x1="447.60" y1="116.59" x2="452.40" y2="116.59" stroke="#222" stroke-width="1.0"/>
<rect x="443.75" y="119.84" width="12.50" height="29.16" fill="#fff" stroke="#222" stroke-width="0.9"/>
<line x1="483.90" y1="141.70" x2="483.90" y2="143.90" stroke="#222" stroke-width="0.9"/>
<line x1="481.50" y1="141.70" x2="486.30" y2="141.70" stroke="#222" stroke-width="1.0"/>
<rect x="477.00" y="143.90" width="13.80" height="5.10" fill="#000"/>
<line x1="497.50" y1="116.21" x2="497.50" y2="119.39" stroke="#222" stroke-width="0.9"/>
<line x1="495.10" y1="116.21" x2="499.90" y2="116.21" stroke="#222" stroke-width="1.0"/>
<rect x="491.25" y="119.84" width="12.50" height="29.16" fill="#fff" stroke="#222" stroke-width="0.9"/>
<rect x="422.50" y="32.50" width="8.70" height="9.10" fill="#000"/>
<rect x="423" y="46.0" width="7.7" height="7.6" fill="#fff" stroke="#555" stroke-width="0.9"/>
<circle cx="69.9" cy="204.4" r="4.0" fill="#000"/>
<path d="M70 215.4 L74.2 223.6 L65.8 223.6 Z" fill="#fff" stroke="#333" stroke-width="0.9"/>
<rect x="123.7" y="201.2" width="7.0" height="6.9" fill="#fff" stroke="#444" stroke-width="0.9"/>
<path d="M127.3 216.0 L131.2 220.0 L127.3 224.0 L123.4 220.0 Z" fill="#fff" stroke="#222" stroke-width="0.9"/>
<line x1="26.90" y1="233.90" x2="26.90" y2="338.00" stroke="#666" stroke-width="1.3"/>
<line x1="24.50" y1="338.00" x2="26.90" y2="338.00" stroke="#666" stroke-width="1.0"/>
<line x1="24.50" y1="303.30" x2="26.90" y2="303.30" stroke="#666" stroke-width="1.0"/>
<line x1="24.50" y1="268.60" x2="26.90" y2="268.60" stroke="#666" stroke-width="1.0"/>
<line x1="24.50" y1="233.90" x2="26.90" y2="233.90" stroke="#666" stroke-width="1.0"/>
<line x1="26.90" y1="338.00" x2="120.50" y2="338.00" stroke="#666" stroke-width="1.1"/>
<line x1="50.30" y1="338.00" x2="50.30" y2="339.60" stroke="#666" stroke-width="0.9"/>
<line x1="73.70" y1="338.00" x2="73.70" y2="339.60" stroke="#666" stroke-width="0.9"/>
<line x1="97.10" y1="338.00" x2="97.10" y2="339.60" stroke="#666" stroke-width="0.9"/>
<line x1="120.50" y1="338.00" x2="120.50" y2="340.20" stroke="#666" stroke-width="0.9"/>
<line x1="129.80" y1="234.60" x2="129.80" y2="338.00" stroke="#666" stroke-width="1.3"/>
<line x1="127.40" y1="338.00" x2="129.80" y2="338.00" stroke="#666" stroke-width="1.0"/>
<line x1="127.40" y1="303.30" x2="129.80" y2="303.30" stroke="#666" stroke-width="1.0"/>
<line x1="127.40" y1="268.60" x2="129.80" y2="268.60" stroke="#666" stroke-width="1.0"/>
<line x1="127.40" y1="233.90" x2="129.80" y2="233.90" stroke="#666" stroke-width="1.0"/>
<line x1="129.80" y1="338.00" x2="225.00" y2="338.00" stroke="#666" stroke-width="1.1"/>
<line x1="153.60" y1="338.00" x2="153.60" y2="339.60" stroke="#666" stroke-width="0.9"/>
<line x1="177.40" y1="338.00" x2="177.40" y2="339.60" stroke="#666" stroke-width="0.9"/>
<line x1="201.20" y1="338.00" x2="201.20" y2="339.60" stroke="#666" stroke-width="0.9"/>
<line x1="225.00" y1="338.00" x2="225.00" y2="340.20" stroke="#666" stroke-width="0.9"/>
<polyline points="38.70,287.70 62.30,289.70 85.60,307.30 109.10,316.30" fill="none" stroke="#222" stroke-width="1.0" stroke-linejoin="round" />
<polyline points="38.70,284.00 62.30,300.90 85.60,301.50 109.10,327.10" fill="none" stroke="#222" stroke-width="1.0" stroke-linejoin="round" />
<polyline points="38.70,312.10 62.30,329.60 85.60,330.70 109.10,330.70" fill="none" stroke="#222" stroke-width="1.0" stroke-linejoin="round" />
<polyline points="141.80,269.80 165.60,298.20 189.60,319.40 213.50,321.30" fill="none" stroke="#222" stroke-width="1.0" stroke-linejoin="round" />
<polyline points="141.80,326.60 165.60,331.40 189.60,328.90 213.50,333.00" fill="none" stroke="#222" stroke-width="1.0" stroke-linejoin="round" />
<polyline points="141.80,326.60 165.60,324.10 189.60,331.40 213.50,333.00" fill="none" stroke="#222" stroke-width="1.0" stroke-linejoin="round" />
<path d="M38.70 285.00 L41.30 289.90 L36.10 289.90 Z" fill="#fff" stroke="#222" stroke-width="0.8"/>
<path d="M62.30 287.00 L64.90 291.90 L59.70 291.90 Z" fill="#fff" stroke="#222" stroke-width="0.8"/>
<path d="M85.60 304.60 L88.20 309.50 L83.00 309.50 Z" fill="#fff" stroke="#222" stroke-width="0.8"/>
<path d="M109.10 313.60 L111.70 318.50 L106.50 318.50 Z" fill="#fff" stroke="#222" stroke-width="0.8"/>
<rect x="36.70" y="282.00" width="4.00" height="4.00" fill="#fff" stroke="#222" stroke-width="0.8"/>
<rect x="60.30" y="298.90" width="4.00" height="4.00" fill="#fff" stroke="#222" stroke-width="0.8"/>
<rect x="83.60" y="299.50" width="4.00" height="4.00" fill="#fff" stroke="#222" stroke-width="0.8"/>
<rect x="107.10" y="325.10" width="4.00" height="4.00" fill="#fff" stroke="#222" stroke-width="0.8"/>
<path d="M38.70 309.50 L41.30 312.10 L38.70 314.70 L36.10 312.10 Z" fill="#fff" stroke="#222" stroke-width="0.8"/>
<path d="M62.30 327.00 L64.90 329.60 L62.30 332.20 L59.70 329.60 Z" fill="#fff" stroke="#222" stroke-width="0.8"/>
<path d="M85.60 328.10 L88.20 330.70 L85.60 333.30 L83.00 330.70 Z" fill="#fff" stroke="#222" stroke-width="0.8"/>
<path d="M109.10 328.10 L111.70 330.70 L109.10 333.30 L106.50 330.70 Z" fill="#fff" stroke="#222" stroke-width="0.8"/>
<path d="M141.80 267.10 L144.40 272.00 L139.20 272.00 Z" fill="#fff" stroke="#222" stroke-width="0.8"/>
<path d="M165.60 295.50 L168.20 300.40 L163.00 300.40 Z" fill="#fff" stroke="#222" stroke-width="0.8"/>
<path d="M189.60 316.70 L192.20 321.60 L187.00 321.60 Z" fill="#fff" stroke="#222" stroke-width="0.8"/>
<path d="M213.50 318.60 L216.10 323.50 L210.90 323.50 Z" fill="#fff" stroke="#222" stroke-width="0.8"/>
<rect x="139.80" y="324.60" width="4.00" height="4.00" fill="#fff" stroke="#222" stroke-width="0.8"/>
<rect x="163.60" y="329.40" width="4.00" height="4.00" fill="#fff" stroke="#222" stroke-width="0.8"/>
<rect x="187.60" y="326.90" width="4.00" height="4.00" fill="#fff" stroke="#222" stroke-width="0.8"/>
<rect x="211.50" y="331.00" width="4.00" height="4.00" fill="#fff" stroke="#222" stroke-width="0.8"/>
<path d="M141.80 324.00 L144.40 326.60 L141.80 329.20 L139.20 326.60 Z" fill="#fff" stroke="#222" stroke-width="0.8"/>
<path d="M165.60 321.50 L168.20 324.10 L165.60 326.70 L163.00 324.10 Z" fill="#fff" stroke="#222" stroke-width="0.8"/>
<path d="M189.60 328.80 L192.20 331.40 L189.60 334.00 L187.00 331.40 Z" fill="#fff" stroke="#222" stroke-width="0.8"/>
<path d="M213.50 330.40 L216.10 333.00 L213.50 335.60 L210.90 333.00 Z" fill="#fff" stroke="#222" stroke-width="0.8"/>
<line x1="287.50" y1="233.10" x2="287.50" y2="358.50" stroke="#666" stroke-width="1.3"/>
<line x1="285.10" y1="337.40" x2="287.50" y2="337.40" stroke="#666" stroke-width="1.0"/>
<line x1="285.10" y1="316.60" x2="287.50" y2="316.60" stroke="#666" stroke-width="1.0"/>
<line x1="285.10" y1="295.80" x2="287.50" y2="295.80" stroke="#666" stroke-width="1.0"/>
<line x1="285.10" y1="275.00" x2="287.50" y2="275.00" stroke="#666" stroke-width="1.0"/>
<line x1="285.10" y1="254.20" x2="287.50" y2="254.20" stroke="#666" stroke-width="1.0"/>
<line x1="285.10" y1="233.40" x2="287.50" y2="233.40" stroke="#666" stroke-width="1.0"/>
<line x1="285.10" y1="358.50" x2="287.50" y2="358.50" stroke="#666" stroke-width="1.0"/>
<line x1="285.30" y1="337.40" x2="402.30" y2="337.40" stroke="#666" stroke-width="1.1"/>
<line x1="316.20" y1="337.40" x2="316.20" y2="339.00" stroke="#666" stroke-width="0.9"/>
<line x1="344.90" y1="337.40" x2="344.90" y2="339.00" stroke="#666" stroke-width="0.9"/>
<line x1="373.60" y1="337.40" x2="373.60" y2="339.00" stroke="#666" stroke-width="0.9"/>
<line x1="402.30" y1="337.40" x2="402.30" y2="339.00" stroke="#666" stroke-width="0.9"/>
<line x1="414.80" y1="234.00" x2="414.80" y2="358.50" stroke="#666" stroke-width="1.3"/>
<line x1="412.40" y1="338.10" x2="414.80" y2="338.10" stroke="#666" stroke-width="1.0"/>
<line x1="412.40" y1="317.40" x2="414.80" y2="317.40" stroke="#666" stroke-width="1.0"/>
<line x1="412.40" y1="296.70" x2="414.80" y2="296.70" stroke="#666" stroke-width="1.0"/>
<line x1="412.40" y1="276.00" x2="414.80" y2="276.00" stroke="#666" stroke-width="1.0"/>
<line x1="412.40" y1="255.30" x2="414.80" y2="255.30" stroke="#666" stroke-width="1.0"/>
<line x1="412.40" y1="234.60" x2="414.80" y2="234.60" stroke="#666" stroke-width="1.0"/>
<line x1="412.40" y1="358.50" x2="414.80" y2="358.50" stroke="#666" stroke-width="1.0"/>
<line x1="412.80" y1="338.10" x2="518.60" y2="338.10" stroke="#666" stroke-width="1.1"/>
<line x1="440.75" y1="338.10" x2="440.75" y2="339.70" stroke="#666" stroke-width="0.9"/>
<line x1="466.70" y1="338.10" x2="466.70" y2="339.70" stroke="#666" stroke-width="0.9"/>
<line x1="492.65" y1="338.10" x2="492.65" y2="339.70" stroke="#666" stroke-width="0.9"/>
<line x1="518.60" y1="338.10" x2="518.60" y2="340.30" stroke="#666" stroke-width="0.9"/>
<polyline points="301.30,267.00 330.20,268.50 359.00,302.30 387.80,314.70" fill="none" stroke="#222" stroke-width="1.0" stroke-linejoin="round" />
<polyline points="301.30,275.50 330.20,297.30 359.00,317.00 387.80,330.00" fill="none" stroke="#222" stroke-width="1.0" stroke-linejoin="round" />
<polyline points="301.30,338.10 330.20,340.00 359.00,340.20 387.80,332.20" fill="none" stroke="#222" stroke-width="1.0" stroke-linejoin="round" />
<polyline points="301.30,341.90 330.20,338.90 359.00,338.60 387.80,340.50" fill="none" stroke="#222" stroke-width="1.0" stroke-linejoin="round" />
<polyline points="427.50,268.60 453.60,306.20 479.50,314.00 505.50,309.40" fill="none" stroke="#222" stroke-width="1.0" stroke-linejoin="round" />
<polyline points="427.50,260.10 453.60,285.50 479.50,295.40 505.50,315.70" fill="none" stroke="#222" stroke-width="1.0" stroke-linejoin="round" />
<polyline points="427.50,338.10 453.60,337.80 479.50,339.10 505.50,343.20" fill="none" stroke="#222" stroke-width="1.0" stroke-linejoin="round" />
<polyline points="427.50,338.30 453.60,342.20 479.50,345.20 505.50,341.60" fill="none" stroke="#222" stroke-width="1.0" stroke-linejoin="round" />
<path d="M301.30 339.30 L303.90 341.90 L301.30 344.50 L298.70 341.90 Z" fill="#fff" stroke="#222" stroke-width="0.8"/>
<path d="M330.20 336.30 L332.80 338.90 L330.20 341.50 L327.60 338.90 Z" fill="#fff" stroke="#222" stroke-width="0.8"/>
<path d="M359.00 336.00 L361.60 338.60 L359.00 341.20 L356.40 338.60 Z" fill="#fff" stroke="#222" stroke-width="0.8"/>
<path d="M387.80 337.90 L390.40 340.50 L387.80 343.10 L385.20 340.50 Z" fill="#fff" stroke="#222" stroke-width="0.8"/>
<rect x="299.30" y="336.10" width="4.00" height="4.00" fill="#fff" stroke="#222" stroke-width="0.8"/>
<rect x="328.20" y="338.00" width="4.00" height="4.00" fill="#fff" stroke="#222" stroke-width="0.8"/>
<rect x="357.00" y="338.20" width="4.00" height="4.00" fill="#fff" stroke="#222" stroke-width="0.8"/>
<rect x="385.80" y="330.20" width="4.00" height="4.00" fill="#fff" stroke="#222" stroke-width="0.8"/>
<path d="M301.30 272.80 L303.90 277.70 L298.70 277.70 Z" fill="#fff" stroke="#222" stroke-width="0.8"/>
<path d="M330.20 294.60 L332.80 299.50 L327.60 299.50 Z" fill="#fff" stroke="#222" stroke-width="0.8"/>
<path d="M359.00 314.30 L361.60 319.20 L356.40 319.20 Z" fill="#fff" stroke="#222" stroke-width="0.8"/>
<path d="M387.80 327.30 L390.40 332.20 L385.20 332.20 Z" fill="#fff" stroke="#222" stroke-width="0.8"/>
<circle cx="301.30" cy="267.00" r="2.54" fill="#000"/>
<circle cx="330.20" cy="268.50" r="2.54" fill="#000"/>
<circle cx="359.00" cy="302.30" r="2.54" fill="#000"/>
<circle cx="387.80" cy="314.70" r="2.54" fill="#000"/>
<path d="M427.50 335.70 L430.10 338.30 L427.50 340.90 L424.90 338.30 Z" fill="#fff" stroke="#222" stroke-width="0.8"/>
<path d="M453.60 339.60 L456.20 342.20 L453.60 344.80 L451.00 342.20 Z" fill="#fff" stroke="#222" stroke-width="0.8"/>
<path d="M479.50 342.60 L482.10 345.20 L479.50 347.80 L476.90 345.20 Z" fill="#fff" stroke="#222" stroke-width="0.8"/>
<path d="M505.50 339.00 L508.10 341.60 L505.50 344.20 L502.90 341.60 Z" fill="#fff" stroke="#222" stroke-width="0.8"/>
<rect x="425.50" y="336.10" width="4.00" height="4.00" fill="#fff" stroke="#222" stroke-width="0.8"/>
<rect x="451.60" y="335.80" width="4.00" height="4.00" fill="#fff" stroke="#222" stroke-width="0.8"/>
<rect x="477.50" y="337.10" width="4.00" height="4.00" fill="#fff" stroke="#222" stroke-width="0.8"/>
<rect x="503.50" y="341.20" width="4.00" height="4.00" fill="#fff" stroke="#222" stroke-width="0.8"/>
<path d="M427.50 257.40 L430.10 262.30 L424.90 262.30 Z" fill="#fff" stroke="#222" stroke-width="0.8"/>
<path d="M453.60 282.80 L456.20 287.70 L451.00 287.70 Z" fill="#fff" stroke="#222" stroke-width="0.8"/>
<path d="M479.50 292.70 L482.10 297.60 L476.90 297.60 Z" fill="#fff" stroke="#222" stroke-width="0.8"/>
<path d="M505.50 313.00 L508.10 317.90 L502.90 317.90 Z" fill="#fff" stroke="#222" stroke-width="0.8"/>
<circle cx="427.50" cy="268.60" r="2.54" fill="#000"/>
<circle cx="453.60" cy="306.20" r="2.54" fill="#000"/>
<circle cx="479.50" cy="314.00" r="2.54" fill="#000"/>
<circle cx="505.50" cy="309.40" r="2.54" fill="#000"/>
<text x="0.30" y="12.50" font-size="17.8" font-weight="bold" fill="#000" textLength="12.85" lengthAdjust="spacingAndGlyphs">A</text>
<text x="131.80" y="13.00" font-size="17.8" font-weight="bold" fill="#000" textLength="12.85" lengthAdjust="spacingAndGlyphs">B</text>
<text x="334.80" y="13.20" font-size="17.8" font-weight="bold" fill="#000" textLength="12.85" lengthAdjust="spacingAndGlyphs">C</text>
<text x="0.10" y="224.70" font-size="17.8" font-weight="bold" fill="#000" textLength="12.85" lengthAdjust="spacingAndGlyphs">D</text>
<text x="254.60" y="224.70" font-size="17.8" font-weight="bold" fill="#000" textLength="11.87" lengthAdjust="spacingAndGlyphs">E</text>
<text x="46.00" y="26.50" font-size="11.4" stroke="#000" stroke-width="0.2" fill="#000" textLength="37.37" lengthAdjust="spacingAndGlyphs">TD CTL</text>
<text x="46.30" y="105.00" font-size="11.4" stroke="#000" stroke-width="0.2" fill="#000" textLength="38.48" lengthAdjust="spacingAndGlyphs">NT CTL</text>
<text x="48.90" y="72.10" font-size="10.9" font-weight="bold" fill="#000" textLength="22.04" lengthAdjust="spacingAndGlyphs">58%</text>
<text x="57.60" y="145.00" font-size="11.3" font-weight="bold" fill="#000" textLength="15.38" lengthAdjust="spacingAndGlyphs">5%</text>
<text x="25.70" y="176.60" font-size="12.6" font-weight="bold" fill="#000" textLength="62.45" lengthAdjust="spacingAndGlyphs">CAR.CD19</text>
<text transform="translate(11.10,149.70) rotate(-90)" font-size="13.0" font-weight="bold" fill="#000" textLength="36.55" lengthAdjust="spacingAndGlyphs">Count</text>
<text x="242.40" y="41.40" font-size="10.9" stroke="#000" stroke-width="0.2" fill="#000" textLength="36.33" lengthAdjust="spacingAndGlyphs">TD CTL</text>
<text x="241.40" y="54.00" font-size="10.9" stroke="#000" stroke-width="0.2" fill="#000" textLength="37.17" lengthAdjust="spacingAndGlyphs">NT CTL</text>
<text x="437.10" y="41.60" font-size="10.9" stroke="#000" stroke-width="0.2" fill="#000" textLength="37.78" lengthAdjust="spacingAndGlyphs">TD CTL</text>
<text x="437.10" y="54.10" font-size="10.9" stroke="#000" stroke-width="0.2" fill="#000" textLength="37.56" lengthAdjust="spacingAndGlyphs">NT CTL</text>
<text x="181.00" y="165.60" font-size="11.0" stroke="#000" stroke-width="0.2" fill="#000" textLength="27.60" lengthAdjust="spacingAndGlyphs">CMV-</text>
<text x="182.00" y="178.50" font-size="11.0" stroke="#000" stroke-width="0.2" fill="#000" textLength="25.54" lengthAdjust="spacingAndGlyphs">pp65</text>
<text x="230.20" y="165.50" font-size="11.0" stroke="#000" stroke-width="0.2" fill="#000" textLength="24.55" lengthAdjust="spacingAndGlyphs">AdV-</text>
<text x="226.90" y="178.40" font-size="11.0" stroke="#000" stroke-width="0.2" fill="#000" textLength="29.79" lengthAdjust="spacingAndGlyphs">hexon</text>
<text x="267.00" y="164.80" font-size="11.0" stroke="#000" stroke-width="0.2" fill="#000" textLength="45.07" lengthAdjust="spacingAndGlyphs">irrelevant</text>
<text x="381.30" y="165.50" font-size="11.0" stroke="#000" stroke-width="0.2" fill="#000" textLength="28.81" lengthAdjust="spacingAndGlyphs">CMV-</text>
<text x="383.30" y="178.50" font-size="11.0" stroke="#000" stroke-width="0.2" fill="#000" textLength="24.75" lengthAdjust="spacingAndGlyphs">pp65</text>
<text x="431.10" y="165.50" font-size="11.0" stroke="#000" stroke-width="0.2" fill="#000" textLength="24.31" lengthAdjust="spacingAndGlyphs">AdV-</text>
<text x="428.00" y="178.40" font-size="11.0" stroke="#000" stroke-width="0.2" fill="#000" textLength="30.41" lengthAdjust="spacingAndGlyphs">hexon</text>
<text x="468.00" y="164.80" font-size="11.0" stroke="#000" stroke-width="0.2" fill="#000" textLength="45.07" lengthAdjust="spacingAndGlyphs">irrelevant</text>
<text transform="translate(142.30,130.00) rotate(-90)" font-size="12.8" font-weight="bold" fill="#000" textLength="83.36" lengthAdjust="spacingAndGlyphs">SFC/10<tspan font-size="8.45" dy="-4.86">5</tspan><tspan dy="4.86"> Cells</tspan></text>
<text transform="translate(343.90,132.00) rotate(-90)" font-size="12.8" font-weight="bold" fill="#000" textLength="83.64" lengthAdjust="spacingAndGlyphs">SFC/10<tspan font-size="8.45" dy="-4.86">5</tspan><tspan dy="4.86"> Cells</tspan></text>
<text x="156.10" y="150.60" font-size="8.8" stroke="#000" stroke-width="0.2" fill="#000" textLength="4.89" lengthAdjust="spacingAndGlyphs">0</text>
<text x="150.90" y="127.10" font-size="8.8" stroke="#000" stroke-width="0.2" fill="#000" textLength="10.30" lengthAdjust="spacingAndGlyphs">50</text>
<text x="146.50" y="103.50" font-size="8.8" stroke="#000" stroke-width="0.2" fill="#000" textLength="14.36" lengthAdjust="spacingAndGlyphs">100</text>
<text x="146.50" y="79.70" font-size="8.8" stroke="#000" stroke-width="0.2" fill="#000" textLength="14.36" lengthAdjust="spacingAndGlyphs">150</text>
<text x="147.50" y="56.20" font-size="8.8" stroke="#000" stroke-width="0.2" fill="#000" textLength="13.41" lengthAdjust="spacingAndGlyphs">200</text>
<text x="147.50" y="32.60" font-size="8.8" stroke="#000" stroke-width="0.2" fill="#000" textLength="13.41" lengthAdjust="spacingAndGlyphs">250</text>
<text x="359.40" y="151.80" font-size="9.4" stroke="#000" stroke-width="0.2" fill="#000" textLength="5.23" lengthAdjust="spacingAndGlyphs">0</text>
<text x="353.40" y="134.90" font-size="9.4" stroke="#000" stroke-width="0.2" fill="#000" textLength="10.10" lengthAdjust="spacingAndGlyphs">50</text>
<text x="348.70" y="118.00" font-size="9.4" stroke="#000" stroke-width="0.2" fill="#000" textLength="14.89" lengthAdjust="spacingAndGlyphs">100</text>
<text x="348.70" y="101.10" font-size="9.4" stroke="#000" stroke-width="0.2" fill="#000" textLength="14.89" lengthAdjust="spacingAndGlyphs">150</text>
<text x="348.70" y="84.20" font-size="9.4" stroke="#000" stroke-width="0.2" fill="#000" textLength="14.89" lengthAdjust="spacingAndGlyphs">200</text>
<text x="348.70" y="67.30" font-size="9.4" stroke="#000" stroke-width="0.2" fill="#000" textLength="14.89" lengthAdjust="spacingAndGlyphs">250</text>
<text x="348.70" y="50.40" font-size="9.4" stroke="#000" stroke-width="0.2" fill="#000" textLength="14.89" lengthAdjust="spacingAndGlyphs">300</text>
<text x="348.70" y="33.50" font-size="9.4" stroke="#000" stroke-width="0.2" fill="#000" textLength="14.89" lengthAdjust="spacingAndGlyphs">350</text>
<text x="78.10" y="207.70" font-size="10.9" stroke="#000" stroke-width="0.2" fill="#000" textLength="19.60" lengthAdjust="spacingAndGlyphs">LCL</text>
<text x="78.10" y="222.90" font-size="10.9" stroke="#000" stroke-width="0.2" fill="#000" textLength="24.12" lengthAdjust="spacingAndGlyphs">pp65</text>
<text x="134.30" y="207.90" font-size="10.9" stroke="#000" stroke-width="0.2" fill="#000" textLength="29.97" lengthAdjust="spacingAndGlyphs">hexon</text>
<text x="134.30" y="223.75" font-size="10.9" stroke="#000" stroke-width="0.2" fill="#000" textLength="45.85" lengthAdjust="spacingAndGlyphs">irrelevant</text>
<text x="43.75" y="249.00" font-size="11.2" stroke="#000" stroke-width="0.2" fill="#000" textLength="38.19" lengthAdjust="spacingAndGlyphs">TD CTL</text>
<text x="160.90" y="249.00" font-size="11.2" stroke="#000" stroke-width="0.2" fill="#000" textLength="38.31" lengthAdjust="spacingAndGlyphs">NT CTL</text>
<text x="344.60" y="260.50" font-size="11.2" stroke="#000" stroke-width="0.2" fill="#000" textLength="38.24" lengthAdjust="spacingAndGlyphs">TD CTL</text>
<text x="464.40" y="261.00" font-size="11.2" stroke="#000" stroke-width="0.2" fill="#000" textLength="39.02" lengthAdjust="spacingAndGlyphs">NT CTL</text>
<text x="27.30" y="354.90" font-size="9.4" stroke="#000" stroke-width="0.2" fill="#000" textLength="19.18" lengthAdjust="spacingAndGlyphs">40:1</text>
<text x="52.70" y="354.90" font-size="9.4" stroke="#000" stroke-width="0.2" fill="#000" textLength="17.96" lengthAdjust="spacingAndGlyphs">20:1</text>
<text x="76.60" y="354.90" font-size="9.4" stroke="#000" stroke-width="0.2" fill="#000" textLength="16.71" lengthAdjust="spacingAndGlyphs">10:1</text>
<text x="102.20" y="354.90" font-size="9.4" stroke="#000" stroke-width="0.2" fill="#000" textLength="12.42" lengthAdjust="spacingAndGlyphs">5:1</text>
<text x="137.10" y="354.90" font-size="9.4" stroke="#000" stroke-width="0.2" fill="#000" textLength="18.13" lengthAdjust="spacingAndGlyphs">40:1</text>
<text x="158.30" y="354.90" font-size="9.4" stroke="#000" stroke-width="0.2" fill="#000" textLength="17.41" lengthAdjust="spacingAndGlyphs">20:1</text>
<text x="181.60" y="354.90" font-size="9.4" stroke="#000" stroke-width="0.2" fill="#000" textLength="16.91" lengthAdjust="spacingAndGlyphs">10:1</text>
<text x="205.30" y="354.90" font-size="9.4" stroke="#000" stroke-width="0.2" fill="#000" textLength="12.13" lengthAdjust="spacingAndGlyphs">5:1</text>
<text x="291.50" y="356.50" font-size="9.4" stroke="#000" stroke-width="0.2" fill="#000" textLength="17.12" lengthAdjust="spacingAndGlyphs">40:1</text>
<text x="322.00" y="356.50" font-size="9.4" stroke="#000" stroke-width="0.2" fill="#000" textLength="16.31" lengthAdjust="spacingAndGlyphs">20:1</text>
<text x="349.40" y="356.50" font-size="9.4" stroke="#000" stroke-width="0.2" fill="#000" textLength="16.89" lengthAdjust="spacingAndGlyphs">10:1</text>
<text x="381.30" y="356.50" font-size="9.4" stroke="#000" stroke-width="0.2" fill="#000" textLength="11.91" lengthAdjust="spacingAndGlyphs">5:1</text>
<text x="418.00" y="356.70" font-size="9.4" stroke="#000" stroke-width="0.2" fill="#000" textLength="17.51" lengthAdjust="spacingAndGlyphs">40:1</text>
<text x="444.50" y="356.70" font-size="9.4" stroke="#000" stroke-width="0.2" fill="#000" textLength="16.79" lengthAdjust="spacingAndGlyphs">20:1</text>
<text x="471.60" y="356.70" font-size="9.4" stroke="#000" stroke-width="0.2" fill="#000" textLength="16.40" lengthAdjust="spacingAndGlyphs">10:1</text>
<text x="498.40" y="356.70" font-size="9.4" stroke="#000" stroke-width="0.2" fill="#000" textLength="12.69" lengthAdjust="spacingAndGlyphs">5:1</text>
<text x="18.90" y="341.00" font-size="9.4" stroke="#000" stroke-width="0.2" fill="#000" textLength="5.23" lengthAdjust="spacingAndGlyphs">0</text>
<text x="14.00" y="306.60" font-size="9.4" stroke="#000" stroke-width="0.2" fill="#000" textLength="9.49" lengthAdjust="spacingAndGlyphs">20</text>
<text x="14.00" y="272.00" font-size="9.4" stroke="#000" stroke-width="0.2" fill="#000" textLength="9.49" lengthAdjust="spacingAndGlyphs">40</text>
<text x="14.00" y="237.20" font-size="9.4" stroke="#000" stroke-width="0.2" fill="#000" textLength="9.49" lengthAdjust="spacingAndGlyphs">60</text>
<text x="278.40" y="340.70" font-size="9.4" stroke="#000" stroke-width="0.2" fill="#000" textLength="5.23" lengthAdjust="spacingAndGlyphs">0</text>
<text x="273.50" y="319.90" font-size="9.4" stroke="#000" stroke-width="0.2" fill="#000" textLength="9.49" lengthAdjust="spacingAndGlyphs">20</text>
<text x="273.50" y="299.10" font-size="9.4" stroke="#000" stroke-width="0.2" fill="#000" textLength="9.49" lengthAdjust="spacingAndGlyphs">40</text>
<text x="273.50" y="278.30" font-size="9.4" stroke="#000" stroke-width="0.2" fill="#000" textLength="9.49" lengthAdjust="spacingAndGlyphs">60</text>
<text x="273.50" y="257.50" font-size="9.4" stroke="#000" stroke-width="0.2" fill="#000" textLength="9.49" lengthAdjust="spacingAndGlyphs">80</text>
<text x="267.50" y="236.70" font-size="9.4" stroke="#000" stroke-width="0.2" fill="#000" textLength="15.74" lengthAdjust="spacingAndGlyphs">100</text>
<text x="59.00" y="375.80" font-size="13.0" font-weight="bold" fill="#000" textLength="132.52" lengthAdjust="spacingAndGlyphs">Effector : Target Ratio</text>
<text x="338.40" y="375.80" font-size="13.0" font-weight="bold" fill="#000" textLength="132.72" lengthAdjust="spacingAndGlyphs">Effector : Target Ratio</text>
<text transform="translate(10.80,335.10) rotate(-90)" font-size="12.8" font-weight="bold" fill="#000" textLength="100.65" lengthAdjust="spacingAndGlyphs">% Specific Lysis</text>
<text transform="translate(264.70,335.60) rotate(-90)" font-size="12.8" font-weight="bold" fill="#000" textLength="101.66" lengthAdjust="spacingAndGlyphs">% Specific Lysis</text>
</svg></div></body></html>
